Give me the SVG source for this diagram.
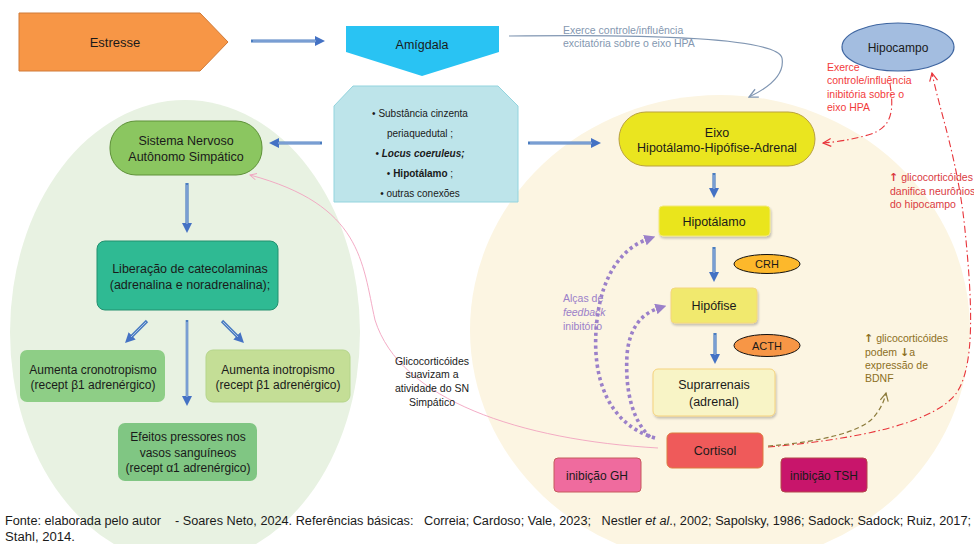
<svg xmlns="http://www.w3.org/2000/svg" width="974" height="544" viewBox="0 0 974 544">
<defs>
<style>
text{font-family:"Liberation Sans",Arial,sans-serif;fill:#1a1a1a}
.c{text-anchor:middle}
.t12{font-size:12.5px}
.t12s{font-size:12px}
.t10{font-size:10px}
.t105{font-size:10.5px}
.ar{font-family:"DejaVu Sans",sans-serif;font-weight:bold;font-size:11px}
.arr{fill:none;stroke:#4A7DC0;stroke-width:3.2}
.arri{fill:none;stroke:#A8C0E6;stroke-width:1}
.thin{fill:none;stroke:#4A7DC0;stroke-width:2.6}
.red{fill:none;stroke:#E8353B;stroke-width:1.1;stroke-dasharray:7,3,1.5,3}
.olive{fill:none;stroke:#8C7B3C;stroke-width:1.2;stroke-dasharray:5,3}
.purple{fill:none;stroke:#9B80C9;stroke-width:3.6;stroke-dasharray:3.2,3.2}
.pink{fill:none;stroke:#F2A3C0;stroke-width:0.9}
.gb{fill:none;stroke:#8096B2;stroke-width:1.2}
</style>
<marker id="ab" viewBox="0 0 10 10" refX="3" refY="5" markerWidth="10" markerHeight="10" markerUnits="userSpaceOnUse" orient="auto"><path d="M0,0 L10,5 L0,10 z" fill="#4472C4"/></marker>
<marker id="ap" viewBox="0 0 10 10" refX="3" refY="5" markerWidth="11" markerHeight="11" markerUnits="userSpaceOnUse" orient="auto"><path d="M0,0 L10,5 L0,10 z" fill="#9B80C9"/></marker>
<marker id="ogb" viewBox="0 0 10 10" refX="9" refY="5" markerWidth="11" markerHeight="11" markerUnits="userSpaceOnUse" orient="auto"><path d="M1,1 L9,5 L1,9" fill="none" stroke="#8096B2" stroke-width="1.2"/></marker>
<marker id="ored" viewBox="0 0 10 10" refX="9" refY="5" markerWidth="10" markerHeight="10" markerUnits="userSpaceOnUse" orient="auto"><path d="M1,1 L9,5 L1,9" fill="none" stroke="#E8353B" stroke-width="1.2"/></marker>
<marker id="oolive" viewBox="0 0 10 10" refX="9" refY="5" markerWidth="10" markerHeight="10" markerUnits="userSpaceOnUse" orient="auto"><path d="M1,1 L9,5 L1,9" fill="none" stroke="#8C7B3C" stroke-width="1.2"/></marker>
<marker id="opink" viewBox="0 0 10 10" refX="9" refY="5" markerWidth="8" markerHeight="8" markerUnits="userSpaceOnUse" orient="auto"><path d="M1,1 L9,5 L1,9" fill="none" stroke="#F2A3C0" stroke-width="1.2"/></marker>
<filter id="sh" x="-10%" y="-10%" width="130%" height="140%"><feDropShadow dx="1" dy="2" stdDeviation="1.2" flood-color="#000" flood-opacity="0.22"/></filter>
</defs>

<g id="backgrounds">
<ellipse cx="185" cy="332" rx="175" ry="232" fill="#E8F2E2"/>
<ellipse cx="720" cy="330" rx="250" ry="235" fill="#FCF5E2"/>
</g>

<g id="connectors">
<path class="arr" d="M251,41 H318" marker-end="url(#ab)"/><path class="arri" d="M253,41 H316"/>
<path class="arr" d="M322,143 H276" marker-end="url(#ab)"/><path class="arri" d="M320,143 H278"/>
<path class="arr" d="M528,143 H594" marker-end="url(#ab)"/><path class="arri" d="M530,143 H592"/>
<path class="arr" d="M187,183 V226" marker-end="url(#ab)"/><path class="arri" d="M187,185 V224"/>
<path class="arr" d="M147,321 L130,338" marker-end="url(#ab)"/><path class="arri" d="M146,322 L131,337"/>
<path class="thin" d="M187,320 V399" marker-end="url(#ab)"/><path class="arri" d="M187,322 V397" stroke-width="0.8"/>
<path class="arr" d="M222,321 L239,338" marker-end="url(#ab)"/><path class="arri" d="M223,322 L238,337"/>
<path class="arr" d="M714,173 V191" marker-end="url(#ab)"/><path class="arri" d="M714,175 V189"/>
<path class="arr" d="M714,247 V275" marker-end="url(#ab)"/><path class="arri" d="M714,249 V273"/>
<path class="arr" d="M715,333 V357" marker-end="url(#ab)"/><path class="arri" d="M715,335 V355"/>
<path class="gb" d="M509,36 C650,34 778,38 782,58 C785,75 768,88 749,97" marker-end="url(#ogb)"/>
<path class="red" d="M890,84 C894,110 893,128 868,135 C850,140 836,142 823,143" marker-end="url(#ored)"/>
<path class="red" d="M768,447 C850,440 930,425 955,395 C976,368 972,300 965,230 C958,160 940,112 932,73" marker-end="url(#ored)"/>
<path class="olive" d="M768,446 C820,442 860,432 873,418 C880,410 884,402 886,393" marker-end="url(#oolive)"/>
<path class="pink" d="M658,448 C520,440 400,400 375,320 C362,262 362,205 250,175" marker-end="url(#opink)"/>
<path class="purple" d="M655,438 C610,425 590,380 597,320 C602,275 622,248 648,239" marker-end="url(#ap)"/>
<path class="purple" d="M650,437 C632,420 625,390 627,355 C629,330 640,314 659,308" marker-end="url(#ap)"/>
</g>

<g id="estresse">
<path d="M19,13 H200 L228,42 L200,71 H19 Z" fill="#F79646" stroke="#D07A38" stroke-width="1"/>
<text x="115" y="47" class="c" font-size="13">Estresse</text>
</g>

<g id="amigdala">
<path d="M346,26 H499 V52 L422,76 L346,52 Z" fill="#29C3F3"/>
<text x="422" y="49" class="c t12">Amígdala</text>
</g>

<g id="label-excitatoria">
<text x="563" y="34" class="t105" style="fill:#8497B0">Exerce controle/influência</text>
<text x="563" y="47" class="t105" style="fill:#8497B0">excitatória sobre o eixo HPA</text>
</g>

<g id="hipocampo">
<ellipse cx="898" cy="47" rx="56" ry="24" fill="#A3BDE0" stroke="#3E65A0" stroke-width="1.2"/>
<text x="898" y="52" class="c t12s">Hipocampo</text>
</g>

<g id="label-inibitoria" class="t105">
<text x="827" y="71" style="fill:#F23B3B">Exerce</text>
<text x="827" y="84" style="fill:#F23B3B">controle/influência</text>
<text x="827" y="98" style="fill:#F23B3B">inibitória sobre o</text>
<text x="827" y="111" style="fill:#F23B3B">eixo HPA</text>
</g>

<g id="label-danifica" class="t105">
<text x="889" y="181" style="fill:#DA3A3F"><tspan class="ar" style="fill:#DA3A3F">↑</tspan> glicocorticóides</text>
<text x="890" y="195" style="fill:#DA3A3F">danifica neurônios</text>
<text x="890" y="208" style="fill:#DA3A3F">do hipocampo</text>
</g>

<g id="conexoes">
<path d="M353,86 H498 L518,106 V202 H334 V106 Z" fill="#BDE4EA" stroke="#93D4DE" stroke-width="1"/>
<text x="420" y="117" class="c t10">• Substância cinzenta</text>
<text x="420" y="137" class="c t10">periaquedutal ;</text>
<text x="420" y="157" class="c t10">• <tspan font-weight="bold" font-style="italic">Locus coeruleus;</tspan></text>
<text x="420" y="177" class="c t10">• <tspan font-weight="bold">Hipotálamo</tspan> ;</text>
<text x="420" y="197" class="c t10">• outras conexões</text>
</g>

<g id="snas">
<rect x="110" y="121" width="152" height="54" rx="26" fill="#8BC660" stroke="#5E9138" stroke-width="1"/>
<text x="186" y="145" class="c t12">Sistema Nervoso</text>
<text x="186" y="161" class="c t12">Autônomo Simpático</text>
</g>

<g id="liberacao">
<rect x="97" y="241" width="181" height="69" rx="8" fill="#2FBA93" stroke="#23906F" stroke-width="1"/>
<text x="190" y="273" class="c t12">Liberação de catecolaminas</text>
<text x="190" y="289" class="c t12">(adrenalina e noradrenalina);</text>
</g>

<g id="cronotropismo">
<rect x="20" y="350" width="145" height="52" rx="7" fill="#8ECE86"/>
<text x="93" y="374" class="c t12s">Aumenta cronotropismo</text>
<text x="93" y="389" class="c t12s">(recept β1 adrenérgico)</text>
</g>

<g id="inotropismo">
<rect x="206" y="350" width="144" height="52" rx="7" fill="#C4DE96" stroke="#B5D58A" stroke-width="1"/>
<text x="278" y="374" class="c t12s">Aumenta inotropismo</text>
<text x="278" y="389" class="c t12s">(recept β1 adrenérgico)</text>
</g>

<g id="pressores">
<rect x="118" y="423" width="139" height="58" rx="7" fill="#80C683"/>
<text x="188" y="441" class="c t12s">Efeitos pressores nos</text>
<text x="188" y="457" class="c t12s">vasos sanguíneos</text>
<text x="188" y="472" class="c t12s">(recept α1 adrenérgico)</text>
</g>

<g id="label-suavizam" class="t105">
<text x="432" y="365" class="c">Glicocorticóides</text>
<text x="432" y="378" class="c">suavizam a</text>
<text x="432" y="392" class="c">atividade do SN</text>
<text x="432" y="406" class="c">Simpático</text>
</g>

<g id="eixo-hpa">
<rect x="619" y="112" width="196" height="54" rx="27" fill="#EAE51F" stroke="#B9A13E" stroke-width="1"/>
<text x="717" y="137" class="c t12">Eixo</text>
<text x="717" y="152" class="c t12">Hipotálamo-Hipófise-Adrenal</text>
</g>

<g id="hipotalamo">
<rect x="659" y="206" width="111" height="30" rx="4" fill="#EAE51F" stroke="#F2E978" stroke-width="1" filter="url(#sh)"/>
<text x="714" y="226" class="c t12">Hipotálamo</text>
</g>

<g id="crh">
<ellipse cx="767" cy="264" rx="33" ry="9.5" fill="#FDB82B" stroke="#111" stroke-width="1"/>
<text x="767" y="268" class="c" font-size="11">CRH</text>
</g>

<g id="hipofise">
<rect x="671" y="288" width="86" height="35" rx="4" fill="#F1E96E" stroke="#F4D77C" stroke-width="1" filter="url(#sh)"/>
<text x="714" y="310" class="c t12">Hipófise</text>
</g>

<g id="acth">
<ellipse cx="767" cy="345.5" rx="33" ry="11" fill="#F79646" stroke="#111" stroke-width="1"/>
<text x="767" y="350" class="c" font-size="11">ACTH</text>
</g>

<g id="suprarrenais">
<rect x="653" y="369" width="122" height="47" rx="5" fill="#F8F4C6" stroke="#F5D27C" stroke-width="1" filter="url(#sh)"/>
<text x="714" y="389" class="c t12">Suprarrenais</text>
<text x="714" y="406" class="c t12">(adrenal)</text>
</g>

<g id="label-feedback" class="t105">
<text x="563" y="302" style="fill:#9B80C9">Alças de</text>
<text x="563" y="316" style="fill:#9B80C9;font-style:italic">feedback</text>
<text x="563" y="330" style="fill:#9B80C9">inibitório</text>
</g>

<g id="label-bdnf" class="t105">
<text x="864" y="342" style="fill:#8C6F22"><tspan class="ar" style="fill:#8C6F22">↑</tspan> glicocorticóides</text>
<text x="865" y="356" style="fill:#8C6F22">podem <tspan class="ar" style="fill:#8C6F22">↓</tspan>a</text>
<text x="865" y="369" style="fill:#8C6F22">expressão de</text>
<text x="865" y="382" style="fill:#8C6F22">BDNF</text>
</g>

<g id="cortisol">
<rect x="667" y="433" width="96" height="35" rx="5" fill="#EF5A5A" stroke="#DD7B3E" stroke-width="1"/>
<text x="715" y="455" class="c t12">Cortisol</text>
</g>

<g id="inibicao-gh">
<rect x="554" y="458" width="87" height="34" rx="4" fill="#EF6B9E" stroke="#C65A5C" stroke-width="1"/>
<text x="597" y="480" class="c t12s">inibição GH</text>
</g>

<g id="inibicao-tsh">
<rect x="781" y="458" width="86" height="34" rx="4" fill="#C8156B" stroke="#B4474A" stroke-width="1"/>
<text x="824" y="480" class="c t12s">inibição TSH</text>
</g>

<g id="footer">
<text x="5" y="525" font-size="12" textLength="966" lengthAdjust="spacingAndGlyphs" style="white-space:pre">Fonte: elaborada pelo autor    - Soares Neto, 2024. Referências básicas:   Correia; Cardoso; Vale, 2023;   Nestler <tspan font-style="italic">et al</tspan>., 2002; Sapolsky, 1986; Sadock; Sadock; Ruiz, 2017;</text>
<text x="5" y="541" font-size="12" textLength="70" lengthAdjust="spacingAndGlyphs">Stahl, 2014.</text>
</g>
</svg>
